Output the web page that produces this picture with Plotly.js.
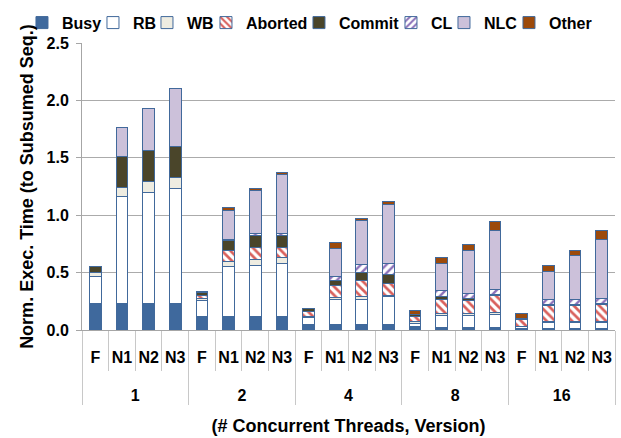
<!DOCTYPE html>
<html><head><meta charset="utf-8">
<script src="https://cdn.plot.ly/plotly-3.0.1.min.js"></script>
<style>html,body{margin:0;padding:0;background:#fff}#c{width:621px;height:438px}</style>
</head><body><div id="c"></div>
<script>
const threads = ["1","1","1","1","2","2","2","2","4","4","4","4","8","8","8","8","16","16","16","16"];
const versions = ["F","N1","N2","N3","F","N1","N2","N3","F","N1","N2","N3","F","N1","N2","N3","F","N1","N2","N3"];
const busy     = [0.23,0.23,0.23,0.23, 0.12,0.12,0.12,0.12, 0.05,0.05,0.05,0.05, 0.03,0.023,0.023,0.023, 0.012,0.01,0.01,0.01];
const rb       = [0.24,0.935,0.97,1.0, 0.135,0.43,0.44,0.46, 0.06,0.215,0.215,0.24, 0.028,0.105,0.107,0.113, 0.018,0.054,0.054,0.054];
const wb       = [0.03,0.08,0.095,0.095, 0.02,0.045,0.05,0.055, 0.01,0.02,0.025,0.01, 0.012,0.012,0.015,0.014, 0.002,0.008,0.011,0.011];
const aborted  = [0,0,0,0, 0.025,0.095,0.11,0.085, 0.04,0.10,0.14,0.105, 0.05,0.13,0.115,0.148, 0.061,0.143,0.14,0.151];
const commit   = [0.05,0.27,0.265,0.27, 0.03,0.09,0.105,0.105, 0.025,0.05,0.07,0.08, 0.013,0.026,0.015,0.015, 0.007,0.005,0.005,0.005];
const cl       = [0,0,0,0, 0.005,0.01,0.015,0.015, 0,0.03,0.07,0.095, 0,0.046,0.044,0.041, 0,0.047,0.047,0.047];
const nlc      = [0,0.245,0.37,0.51, 0,0.25,0.375,0.515, 0.005,0.245,0.38,0.515, 0,0.238,0.377,0.516, 0,0.243,0.379,0.511];
const other    = [0,0,0,0, 0,0.03,0.015,0.02, 0,0.05,0.02,0.025, 0.04,0.052,0.049,0.078, 0.045,0.05,0.044,0.081];
const seriesNames = ["Busy","RB","WB","Aborted","Commit","CL","NLC","Other"];
const yTicks = [0,0.5,1.0,1.5,2.0,2.5];
const yTickText = ["0.0","0.5","1.0","1.5","2.0","2.5"];

const FAM = 'Liberation Sans, Arial, sans-serif';
const outline = {color:'#41699B', width:1};
// legend entry widths (px) to pack the horizontal legend tightly
const legendW = [26, 9, 14, 48, 47, 8, 20, 43];
// tick labels drawn at 16px inside a 20px axis font; inner labels get an empty extra line
const lbl = s => '<span style="font-size:16px">' + s + '</span>';
const versionLabels = versions.map(v => lbl(v) + '<br>\u00A0');
const threadLabels = threads.map(t => lbl(t));
function tr(i, y, color, pattern){
  const m = {color: color, line: outline};
  if (pattern) m.pattern = pattern;
  return {type:'bar', name:seriesNames[i], x:[threadLabels, versionLabels], y:y, marker:m,
          legendwidth: legendW[i], hoverinfo:'y'};
}
const data = [
  tr(0, busy, '#3F699D'),
  tr(1, rb, '#FFFFFF'),
  tr(2, wb, '#EEECE1'),
  tr(3, aborted, '#FFFFFF', {shape:'\\', fgcolor:'#D9605C', bgcolor:'#FFFFFF', size:6, solidity:0.45}),
  tr(4, commit, '#4A452A'),
  tr(5, cl, '#FFFFFF', {shape:'/', fgcolor:'#8A6FB8', bgcolor:'#FFFFFF', size:6, solidity:0.4}),
  tr(6, nlc, '#CCC1DA'),
  tr(7, other, '#9C4A0B')
];
const layout = {
  width:621, height:438,
  margin:{l:82, r:6, t:43, b:108},
  barmode:'stack', bargap:0.56,
  paper_bgcolor:'#fff', plot_bgcolor:'#fff',
  font: {family:FAM, size:16, color:'#000'},
  showlegend:true,
  legend:{orientation:'h', xref:'paper', x:-0.1126, xanchor:'left', yref:'paper', y:1.13, yanchor:'top',
          font:{family:FAM, size:16, color:'#000', weight:'bold'},
          itemwidth:30, tracegroupgap:0, traceorder:'normal', bgcolor:'rgba(0,0,0,0)'},
  xaxis:{type:'multicategory', showgrid:false, showline:true, linecolor:'#A6A6A6', tickangle:0,
         ticks:'outside', ticklen:40, tickcolor:'#C8C8C8', showdividers:true, dividercolor:'#C8C8C8', dividerwidth:1,
         ticklabelstandoff:8,
         tickfont:{family:FAM, size:20, color:'#000', weight:'bold'},
         title:{text:'(# Concurrent Threads, Version)', standoff:16,
                font:{family:FAM, size:18, color:'#000', weight:'bold'}}},
  yaxis:{range:[0,2.5], tickvals:yTicks, ticktext:yTickText, showgrid:true, gridcolor:'#ABABAB', gridwidth:1,
         showline:true, linecolor:'#A6A6A6', ticks:'outside', ticklen:5, tickcolor:'#A6A6A6', zeroline:false,
         ticklabelstandoff:4,
         tickfont:{family:FAM, size:16, color:'#000', weight:'bold'},
         title:{text:'Norm. Exec. Time (to Subsumed Seq.)', standoff:8,
                font:{family:FAM, size:18, color:'#000', weight:'bold'}}}
};
Plotly.newPlot('c', data, layout, {displayModeBar:false, staticPlot:true});
</script></body></html>
